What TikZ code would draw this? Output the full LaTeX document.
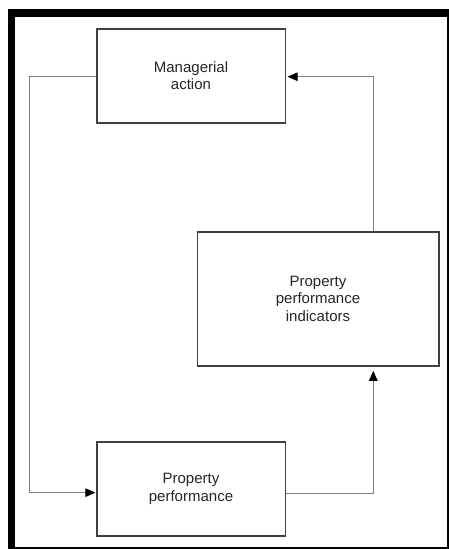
\documentclass[tikz,border=0pt]{standalone}
\usepackage{fontspec}
\setmainfont{Liberation Sans}
\usetikzlibrary{arrows.meta}
\begin{document}
\begin{tikzpicture}[x=1pt,y=-1pt,
  block/.style={draw=black!75, line width=1.6pt, fill=white, align=center,
    inner sep=0pt, font=\fontsize{15}{17.5}\selectfont, text=black!85},
  conn/.style={draw=black!50, line width=1pt,
    -{Triangle[length=10pt,width=8.5pt,color=black,fill=black]}}]
  \useasboundingbox (0,0) rectangle (449,549);
  % surrounding frame
  \fill[black] (8,9) rectangle (449,549);
  \fill[white] (15,17) rectangle (446.5,547);
  % boxes
  \node[block, minimum width=188.6pt, minimum height=93.7pt] (ma) at (191,75.85)
    {Managerial\\action};
  \node[block, minimum width=188.6pt, minimum height=93.7pt] (pp) at (191,488.85)
    {Property\\performance};
  \node[block, minimum width=241.4pt, minimum height=134.3pt] (ppi) at (318,298.85)
    {Property\\performance\\indicators};
  % feedback loop
  \coordinate (left) at (29.3,76.7);
  \coordinate (right) at (373.3,76.7);
  \draw[conn, shorten >=0.5pt]
    (ma.west |- left) -- (left) |- ([yshift=-3.8pt]pp.west);
  \draw[conn, shorten >=4pt]
    ([yshift=-4.4pt]pp.east) -| (ppi.south -| right);
  \draw[conn, shorten >=1.4pt]
    (ppi.north -| right) -- (right) -- (ma.east |- right);
\end{tikzpicture}
\end{document}
